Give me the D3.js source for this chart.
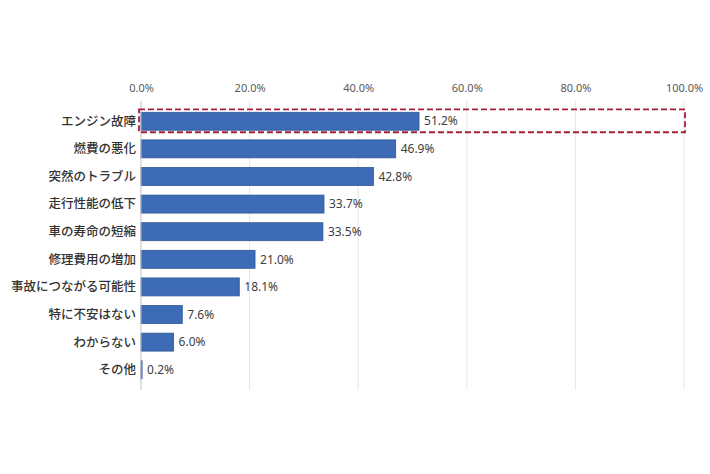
<!DOCTYPE html>
<html>
<head>
<meta charset="utf-8">
<script src="https://cdn.jsdelivr.net/npm/d3@7"></script>
<style>
  body { margin: 0; background: #fff; }
  text { font-family: "Noto Sans CJK JP", "Noto Sans", sans-serif; }
</style>
</head>
<body>
<div id="chart"></div>
<script>
// data
const categories = ["エンジン故障", "燃費の悪化", "突然のトラブル", "走行性能の低下", "車の寿命の短縮",
  "修理費用の増加", "事故につながる可能性", "特に不安はない", "わからない", "その他"];
const values = [51.2, 46.9, 42.8, 33.7, 33.5, 21.0, 18.1, 7.6, 6.0, 0.2];
const tickValues = [0, 20, 40, 60, 80, 100];

function main(){
  const width = 710
  const height = 474
  const margin = {top: 104, left: 141, right: 26, bottom: 87}

  const svg = d3.select("#chart")
    .append("svg")
    .attr("width", width)
    .attr("height", height)

  const x = d3.scaleLinear()
    .domain([0, 100])
    .range([margin.left, width - margin.right])

  const y = d3.scaleBand()
    .domain(categories)
    .range([margin.top, height - margin.bottom])
    .paddingInner(0.35)
    .paddingOuter(0.3)

  // vertical grid lines
  svg.append("g")
    .selectAll("line")
    .data(tickValues.slice(1))
    .join("line")
      .attr("x1", d => x(d))
      .attr("x2", d => x(d))
      .attr("y1", margin.top - 3)
      .attr("y2", height - margin.bottom + 3)
      .attr("stroke", "#e6e6e6")
      .attr("stroke-width", 1)

  // top axis labels
  const xAxis = svg.append("g")
    .attr("transform", `translate(0,${margin.top - 9})`)
    .call(d3.axisTop(x).tickValues(tickValues).tickFormat(d => d.toFixed(1) + "%").tickSize(0))
  xAxis.select(".domain").remove()
  xAxis.selectAll("text")
    .attr("font-size", 11)
    .attr("fill", "#595959")
    .style("font-family", '"Noto Sans", sans-serif')

  // bars
  svg.append("g")
    .selectAll("rect")
    .data(values)
    .join("rect")
      .attr("x", x(0))
      .attr("y", (d, i) => y(categories[i]))
      .attr("width", d => x(d) - x(0))
      .attr("height", y.bandwidth())
      .attr("fill", "#3d6bb6")
      .attr("stroke", "#2f5597")
      .attr("stroke-width", 0.8)

  // value labels
  svg.append("g")
    .selectAll("text")
    .data(values)
    .join("text")
      .attr("x", d => x(d) + 5)
      .attr("y", (d, i) => y(categories[i]) + y.bandwidth() / 2)
      .attr("dy", "0.35em")
      .attr("font-size", 12)
      .attr("fill", "#404040")
      .style("font-family", '"Noto Sans", sans-serif')
      .text(d => d.toFixed(1) + "%")

  // category axis
  svg.append("line")
    .attr("x1", x(0))
    .attr("x2", x(0))
    .attr("y1", margin.top - 3)
    .attr("y2", height - margin.bottom + 3)
    .attr("stroke", "#bfbfbf")

  svg.append("g")
    .selectAll("text")
    .data(categories)
    .join("text")
      .attr("x", x(0) - 5)
      .attr("y", d => y(d) + y.bandwidth() / 2)
      .attr("dy", "0.35em")
      .attr("text-anchor", "end")
      .attr("font-size", 12.5)
      .attr("font-weight", 500)
      .attr("fill", "#333")
      .text(d => d)

  // highlight box round the top row
  const pad = 2
  svg.append("rect")
    .attr("x", x(0) - 2)
    .attr("y", y(categories[0]) - pad - 1)
    .attr("width", x(100) - x(0) + 3)
    .attr("height", y.bandwidth() + 2 * pad + 1)
    .attr("fill", "none")
    .attr("stroke", "#a61f38")
    .attr("stroke-width", 1.8)
    .attr("stroke-dasharray", "6,3")
}
main();
</script>
</body>
</html>
